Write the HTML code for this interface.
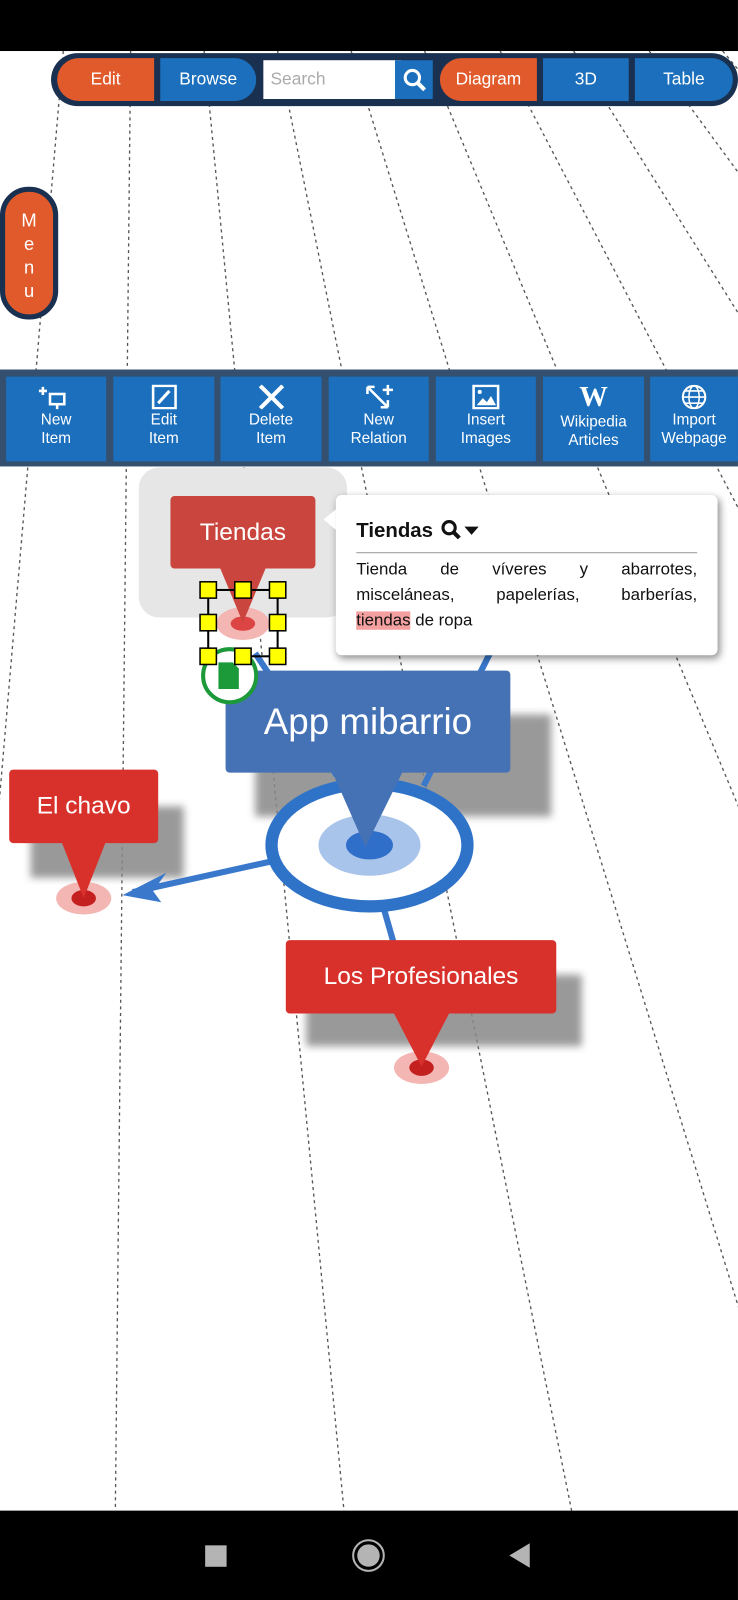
<!DOCTYPE html>
<html><head><meta charset="utf-8"><style>
html,body{margin:0;padding:0;width:738px;height:1600px;overflow:hidden;background:#fff;}
#w{position:absolute;left:0;top:0;width:723px;height:1568px;transform:scale(1.0207);transform-origin:0 0;font-family:"Liberation Sans",sans-serif;}
.a{position:absolute;box-sizing:border-box;}
.btn{position:absolute;top:57px;height:42px;color:#fff;font-size:17px;display:flex;align-items:center;justify-content:center;}
.or{background:#e05a2b}.bl{background:#1b6fbc}
.tb{position:absolute;top:369px;height:83px;background:#1b6fbc;color:#fff;font-size:15px;text-align:center;line-height:18px;}
.tb svg{display:block;margin:8px auto 2px;}
.node{position:absolute;color:#fff;display:flex;align-items:center;justify-content:center;border-radius:4px;}
.jl{text-align:justify;text-align-last:justify;height:25px}
</style></head><body><div id="w">
<svg class="a" style="left:0;top:0" width="723" height="1568">
<defs><filter id="bl"><feGaussianBlur stdDeviation="4"/></filter></defs>
<g stroke="#555" stroke-width="1.3" stroke-dasharray="3,3.5" fill="none">
<line x1="62" y1="50" x2="-60" y2="1480"/>
<line x1="128" y1="50" x2="113" y2="1480"/>
<line x1="200" y1="50" x2="337" y2="1480"/>
<line x1="272" y1="50" x2="560" y2="1480"/>
<line x1="344" y1="50" x2="785" y2="1480"/>
<line x1="416" y1="50" x2="1010" y2="1480"/>
<line x1="490" y1="50" x2="1235" y2="1480"/>
<line x1="562" y1="50" x2="1460" y2="1480"/>
<line x1="636" y1="50" x2="1685" y2="1480"/>
<line x1="708" y1="50" x2="1910" y2="1480"/>
</g>
<rect x="136" y="458" width="204" height="147" rx="20" fill="#e6e6e6"/>
<rect x="250" y="700" width="290" height="100" fill="#888" filter="url(#bl)" opacity=".85"/>
<rect x="30" y="790" width="150" height="70" fill="#888" filter="url(#bl)" opacity=".85"/>
<rect x="300" y="955" width="270" height="70" fill="#888" filter="url(#bl)" opacity=".85"/>
<g stroke="#3a78cc" stroke-width="6" fill="none">
<line x1="415" y1="770" x2="480" y2="640"/>
<line x1="330" y1="760" x2="250" y2="640"/>
<line x1="270" y1="843" x2="130" y2="874"/>
<line x1="376" y1="890" x2="386" y2="925"/>
</g>
<polygon points="120,877 163,855 150,873 158,884" fill="#3a78cc"/>
<ellipse cx="362" cy="828" rx="96" ry="60" fill="#fff" stroke="#2f73c9" stroke-width="12"/>
<ellipse cx="362" cy="828" rx="50" ry="30" fill="#a8c4ea"/>
<ellipse cx="362" cy="828" rx="23" ry="14" fill="#2f6fc9"/>
<ellipse cx="238" cy="611" rx="26" ry="16" fill="#f3b6b3"/><ellipse cx="238" cy="611" rx="12" ry="7" fill="#d44"/>
<ellipse cx="82" cy="880" rx="27" ry="16" fill="#f3b6b3"/><ellipse cx="82" cy="880" rx="12" ry="8" fill="#c42020"/>
<ellipse cx="413" cy="1046" rx="27" ry="16" fill="#f3b6b3"/><ellipse cx="413" cy="1046" rx="12" ry="8" fill="#c42020"/>
<polygon points="215,555 261,555 238,610" fill="#c9453d"/>
<polygon points="60,824 104,824 82,880" fill="#d8312b"/>
<polygon points="385,991 441,991 413,1045" fill="#d8312b"/>
<polygon points="325,755 395,755 358,830" fill="#4472b5"/>
</svg>
<div class="a" style="left:0;top:0;width:723px;height:50px;background:#000"></div>
<div class="a" style="left:50px;top:52px;width:673px;height:52px;background:#1a3050;border-radius:26px"></div>
<div class="btn or" style="left:56px;width:95px;border-radius:21px 0 0 21px">Edit</div>
<div class="btn bl" style="left:157px;width:94px;border-radius:0 21px 21px 0">Browse</div>
<div class="btn" style="left:258px;width:128px;top:59px;height:38px;background:#fff;color:#aaa;justify-content:flex-start;padding-left:7px">Search</div>
<div class="btn bl" style="left:387px;width:37px;top:59px;height:38px"><svg width="24" height="24"><circle cx="10" cy="10" r="7" stroke="#fff" stroke-width="3" fill="none"/><line x1="15" y1="15" x2="22" y2="22" stroke="#fff" stroke-width="4"/></svg></div>
<div class="btn or" style="left:431px;width:95px;border-radius:21px 0 0 21px">Diagram</div>
<div class="btn bl" style="left:532px;width:84px">3D</div>
<div class="btn bl" style="left:622px;width:96px;border-radius:0 21px 21px 0">Table</div>
<div class="a" style="left:0;top:183px;width:57px;height:130px;background:#e05a2b;border:5px solid #1a3050;border-radius:28px;color:#fff;font-size:18px;text-align:center;line-height:23px;padding-top:17px">M<br>e<br>n<br>u</div>
<div class="a" style="left:0;top:362px;width:723px;height:95px;background:#34506e"></div>
<div class="tb" style="left:6px;width:98px"><svg width="34" height="24"><path d="M4 2v8M0 6h8" stroke="#fff" stroke-width="2.5"/><rect x="11" y="9" width="14" height="10" stroke="#fff" stroke-width="2.5" fill="none"/><line x1="18" y1="19" x2="18" y2="24" stroke="#fff" stroke-width="2.5"/></svg>New<br>Item</div>
<div class="tb" style="left:111px;width:99px"><svg width="34" height="24"><rect x="6" y="1" width="22" height="22" stroke="#fff" stroke-width="2.5" fill="none"/><line x1="11" y1="18" x2="22" y2="6" stroke="#fff" stroke-width="3"/></svg>Edit<br>Item</div>
<div class="tb" style="left:216px;width:99px"><svg width="34" height="24"><path d="M6 1L28 23M28 1L6 23" stroke="#fff" stroke-width="4"/></svg>Delete<br>Item</div>
<div class="tb" style="left:322px;width:98px"><svg width="34" height="24"><path d="M6 2L26 22M6 2h7M6 2v7M26 22h-7M26 22v-7M26 0v10M21 5h10" stroke="#fff" stroke-width="2.5" fill="none"/></svg>New<br>Relation</div>
<div class="tb" style="left:427px;width:98px"><svg width="34" height="24"><rect x="5" y="1" width="24" height="22" stroke="#fff" stroke-width="2.5" fill="none"/><path d="M8 20l6-7 4 4 4-6 5 9z" fill="#fff"/><circle cx="11" cy="7" r="2" fill="#fff"/></svg>Insert<br>Images</div>
<div class="tb" style="left:532px;width:99px"><div style="font-family:'Liberation Serif',serif;font-size:28px;font-weight:bold;height:26px;line-height:26px;margin:8px 0 2px">W</div>Wikipedia<br>Articles</div>
<div class="tb" style="left:637px;width:86px"><svg width="34" height="24"><circle cx="17" cy="12" r="11" stroke="#fff" stroke-width="2" fill="none"/><ellipse cx="17" cy="12" rx="5" ry="11" stroke="#fff" stroke-width="1.5" fill="none"/><path d="M6 12h22M8 6h18M8 18h18" stroke="#fff" stroke-width="1.5"/></svg>Import<br>Webpage</div>
<div class="node" style="left:167px;top:486px;width:142px;height:71px;background:#c9453d;font-size:24px">Tiendas</div>
<div class="node" style="left:221px;top:657px;width:279px;height:100px;background:#4472b5;font-size:36px">App mibarrio</div>
<div class="node" style="left:9px;top:754px;width:146px;height:72px;background:#d8312b;font-size:24px">El chavo</div>
<div class="node" style="left:280px;top:921px;width:265px;height:72px;background:#d8312b;font-size:24px">Los Profesionales</div>
<svg class="a" style="left:190px;top:565px" width="100" height="130">
<rect x="14" y="13" width="68" height="65" fill="none" stroke="#000" stroke-width="2"/>
<circle cx="35" cy="97" r="26" fill="#fff" stroke="#1c9a3a" stroke-width="4"/>
<path d="M24 84h14l6 6v20h-20z" fill="#1c9a3a"/>
<g fill="#ff0" stroke="#000" stroke-width="1.5">
<rect x="6" y="5" width="16" height="16"/><rect x="40" y="5" width="16" height="16"/><rect x="74" y="5" width="16" height="16"/>
<rect x="6" y="37" width="16" height="16"/><rect x="74" y="37" width="16" height="16"/>
<rect x="6" y="70" width="16" height="16"/><rect x="40" y="70" width="16" height="16"/><rect x="74" y="70" width="16" height="16"/>
</g></svg>
<div class="a" style="left:329px;top:485px;width:374px;height:157px;background:#fff;border-radius:6px;box-shadow:2px 3px 8px rgba(0,0,0,.45);padding:22px 20px 0 20px">
<div style="position:absolute;left:-12px;top:14px;width:0;height:0;border-top:10px solid transparent;border-bottom:10px solid transparent;border-right:12px solid #fff"></div>
<div style="font-size:20px;font-weight:bold;color:#111;height:26px;display:flex;align-items:center">Tiendas&nbsp;<svg width="44" height="22"><circle cx="10" cy="8" r="6" stroke="#111" stroke-width="3" fill="none"/><line x1="14" y1="12" x2="20" y2="18" stroke="#111" stroke-width="4"/><polygon points="25,7 39,7 32,15" fill="#111"/></svg></div>
<div style="border-top:1.5px solid #999;margin-top:8px;padding-top:4px;font-size:16.5px;line-height:25px;color:#111">
<div class="jl">Tienda de víveres y abarrotes,</div>
<div class="jl">misceláneas, papelerías, barberías,</div>
<div><span style="background:#f4a0a0">tiendas</span> de ropa</div>
</div>
</div>
<div class="a" style="left:0;top:1480px;width:723px;height:88px;background:#000"></div>
<div class="a" style="left:201px;top:1514px;width:21px;height:21px;background:#b4b4b4"></div>
<div class="a" style="left:345px;top:1508px;width:32px;height:32px;border-radius:50%;border:2px solid #b4b4b4;box-sizing:border-box;padding:3px"><div style="width:22px;height:22px;border-radius:50%;background:#b4b4b4"></div></div>
<div class="a" style="left:499px;top:1512px;width:0;height:0;border-top:12px solid transparent;border-bottom:12px solid transparent;border-right:20px solid #b4b4b4"></div>
</div></body></html>
